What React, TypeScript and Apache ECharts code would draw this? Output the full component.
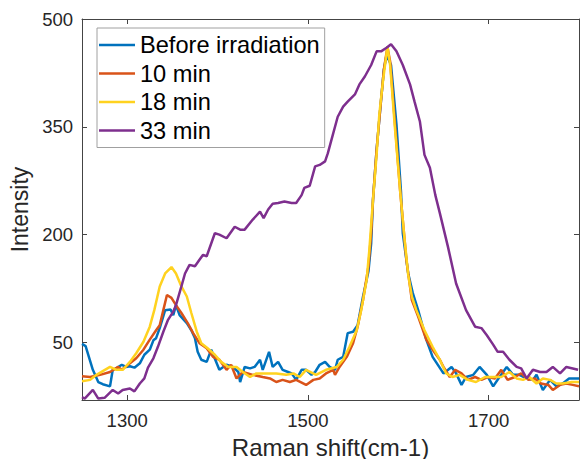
import React, { useEffect, useRef } from "react";
import * as echarts from "echarts";

const xTicks = [1300, 1500, 1700];
const yTicks = [50, 200, 350, 500];

const seriesNames = ["Before irradiation", "10 min", "18 min", "33 min"];
const seriesColors = ["#0072BD", "#D95319", "#FFD21F", "#7E2F8E"];

const before: [number, number][] = [
  [1250, 48], [1254, 45], [1262, 12], [1268, -5], [1273, -8], [1281, -11], [1284, 12], [1288, 14],
  [1294, 19], [1299, 16], [1303, 17], [1308, 15], [1314, 21], [1319, 33], [1325, 40], [1329, 53],
  [1332, 56], [1336, 70], [1342, 95], [1348, 96], [1351, 88], [1354, 102], [1358, 88], [1366, 77],
  [1371, 67], [1375, 56], [1378, 37], [1382, 26], [1388, 23], [1393, 40], [1402, 12], [1410, 19],
  [1417, 16], [1423, 9], [1425, -5], [1430, 16], [1436, 14], [1441, 16], [1447, 26], [1450, 12],
  [1457, 37], [1461, 16], [1467, 23], [1472, 12], [1478, 9], [1482, 7], [1487, -2], [1493, 12],
  [1498, 12], [1504, 5], [1508, 9], [1513, 19], [1519, 23], [1524, 16], [1530, 12], [1533, 26],
  [1539, 30], [1544, 63], [1550, 65], [1555, 74], [1561, 114], [1567, 149], [1570, 188], [1572, 248],
  [1576, 318], [1581, 388], [1584, 429], [1587, 450], [1592, 436], [1598, 353], [1603, 260], [1605, 202],
  [1611, 146], [1616, 119], [1622, 95], [1631, 54], [1638, 30], [1650, 7], [1659, 16], [1664, 7],
  [1670, -9], [1675, 2], [1683, 5], [1690, 16], [1698, 5], [1705, -11], [1712, 2], [1720, 16],
  [1727, 5], [1734, 5], [1742, 0], [1749, -2], [1753, 5], [1760, -16], [1768, -2], [1775, -11],
  [1782, -7], [1789, 0], [1800, 0],
];

const min10: [number, number][] = [
  [1250, 3], [1259, 2], [1270, 5], [1281, 9], [1290, 16], [1294, 12], [1301, 19], [1310, 28],
  [1318, 40], [1325, 54], [1332, 67], [1336, 74], [1340, 95], [1344, 116], [1349, 112], [1354, 102],
  [1360, 91], [1367, 77], [1373, 63], [1380, 49], [1388, 42], [1395, 30], [1402, 26], [1410, 12],
  [1415, 19], [1421, 0], [1428, 9], [1439, 5], [1450, 2], [1458, 0], [1465, -5], [1472, -2],
  [1480, -5], [1487, -2], [1498, -9], [1506, -2], [1513, 0], [1520, 7], [1528, 12], [1530, 5],
  [1535, 16], [1543, 30], [1550, 49], [1555, 72], [1561, 109], [1567, 156], [1570, 202], [1572, 248],
  [1576, 318], [1581, 388], [1584, 429], [1588, 461], [1591, 441], [1596, 360], [1602, 262], [1609, 165],
  [1615, 109], [1622, 86], [1631, 54], [1638, 40], [1646, 26], [1650, 16], [1657, 2], [1663, 12],
  [1670, 7], [1677, -2], [1685, 2], [1692, -2], [1699, 2], [1707, 0], [1714, 12], [1721, -2],
  [1729, 2], [1736, 7], [1744, -2], [1751, 0], [1758, -7], [1766, -9], [1771, -16], [1779, -9],
  [1786, -7], [1793, -9], [1800, -11],
];

const min18: [number, number][] = [
  [1250, -4], [1259, -2], [1266, 5], [1281, 16], [1288, 12], [1295, 12], [1303, 23], [1310, 35],
  [1318, 51], [1325, 72], [1330, 95], [1336, 128], [1342, 146], [1349, 155], [1354, 146], [1360, 128],
  [1366, 114], [1371, 91], [1377, 65], [1382, 49], [1389, 42], [1397, 33], [1404, 23], [1412, 16],
  [1421, 16], [1428, 9], [1436, 2], [1443, 7], [1454, 7], [1465, 7], [1476, 5], [1484, 7],
  [1491, 2], [1498, 12], [1509, 5], [1520, 12], [1532, 16], [1539, 26], [1546, 44], [1554, 67],
  [1559, 95], [1565, 137], [1568, 179], [1572, 248], [1576, 311], [1579, 367], [1583, 413], [1588, 462],
  [1591, 436], [1596, 353], [1602, 262], [1607, 193], [1611, 144], [1615, 114], [1620, 95], [1629, 67],
  [1638, 44], [1646, 26], [1653, 7], [1660, 2], [1668, 5], [1677, -2], [1686, -5], [1696, 2],
  [1705, 2], [1714, 2], [1723, 9], [1731, 0], [1738, -2], [1745, 2], [1753, -7], [1760, 0],
  [1768, -2], [1775, -7], [1782, -7], [1792, -5], [1800, -5],
];

const min33: [number, number][] = [
  [1250, -26], [1253, -28], [1262, -16], [1268, -28], [1275, -27], [1284, -16], [1290, -21], [1295, -16],
  [1303, -14], [1308, -18], [1314, -7], [1319, 0], [1323, 15], [1329, 28], [1334, 44], [1340, 65],
  [1345, 81], [1351, 93], [1354, 102], [1360, 128], [1364, 146], [1369, 158], [1375, 156], [1380, 165],
  [1384, 172], [1388, 170], [1397, 202], [1402, 200], [1410, 195], [1419, 211], [1425, 207], [1430, 207],
  [1439, 221], [1447, 232], [1451, 223], [1456, 235], [1461, 243], [1467, 244], [1474, 246], [1482, 244],
  [1487, 244], [1493, 255], [1496, 265], [1502, 268], [1508, 295], [1513, 297], [1519, 302], [1522, 313],
  [1528, 341], [1533, 364], [1539, 378], [1544, 385], [1552, 395], [1557, 409], [1563, 420], [1570, 436],
  [1576, 455], [1581, 455], [1587, 460], [1592, 465], [1598, 455], [1605, 436], [1613, 409], [1618, 385],
  [1624, 357], [1629, 311], [1635, 293], [1641, 255], [1646, 230], [1655, 183], [1664, 132], [1675, 95],
  [1685, 72], [1692, 70], [1698, 60], [1705, 47], [1710, 37], [1716, 37], [1723, 26], [1731, 16],
  [1736, 14], [1742, 0], [1749, 12], [1757, 9], [1764, 9], [1771, 16], [1779, 7], [1786, 16],
  [1799, 12],
];

const allData = [before, min10, min18, min33];

const FONT = "'Liberation Sans', Arial, Helvetica, sans-serif";
const AXIS_COLOR = "#444444";
const TEXT_COLOR = "#262626";

export default function App() {
  const ref = useRef<HTMLDivElement>(null);

  useEffect(() => {
    if (!ref.current) return;
    const chart = echarts.init(ref.current, undefined, { renderer: "svg" });

    const axisLine = { show: true, onZero: false, lineStyle: { color: AXIS_COLOR, width: 1 } };
    const tick = { show: true, inside: true, length: 5, lineStyle: { color: AXIS_COLOR, width: 1 } };
    const plain = (v: number) => String(v);

    chart.setOption({
      animation: false,
      backgroundColor: "#ffffff",
      textStyle: { fontFamily: FONT },
      grid: { left: 82, right: 2, top: 19, bottom: 59, containLabel: false, outerBoundsMode: "none" },
      legend: {
        show: true,
        orient: "vertical",
        left: 97,
        top: 28,
        data: seriesNames.map((n) => ({ name: n, icon: "rect" })),
        itemWidth: 36,
        itemHeight: 2.5,
        itemGap: 4.5,
        padding: [5, 5, 5, 2],
        borderColor: "#a0a0a0",
        borderWidth: 1,
        backgroundColor: "#ffffff",
        textStyle: { fontSize: 23.6, lineHeight: 24, color: "#000000", fontFamily: FONT },
      },
      xAxis: [
        {
          type: "value",
          min: 1250,
          max: 1800,
          position: "bottom",
          axisLine,
          axisTick: { ...tick, customValues: xTicks },
          axisLabel: { customValues: xTicks, formatter: plain, fontSize: 18.5, color: TEXT_COLOR, margin: 11, fontFamily: FONT },
          splitLine: { show: false },
          name: "Raman shift(cm-1)",
          nameLocation: "middle",
          nameGap: 35,
          nameTextStyle: { fontSize: 24, color: TEXT_COLOR, fontFamily: FONT, verticalAlign: "top" },
        },
        {
          type: "value",
          min: 1250,
          max: 1800,
          position: "top",
          axisLine,
          axisTick: { ...tick, customValues: xTicks },
          axisLabel: { show: false },
          splitLine: { show: false },
        },
      ],
      yAxis: [
        {
          type: "value",
          min: -30,
          max: 500,
          position: "left",
          axisLine,
          axisTick: { ...tick, customValues: yTicks },
          axisLabel: { customValues: yTicks, formatter: plain, fontSize: 18.5, color: TEXT_COLOR, margin: 9, fontFamily: FONT },
          splitLine: { show: false },
          name: "Intensity",
          nameLocation: "middle",
          nameGap: 43,
          nameRotate: 90,
          nameTextStyle: { fontSize: 23, color: TEXT_COLOR, fontFamily: FONT },
        },
        {
          type: "value",
          min: -30,
          max: 500,
          position: "right",
          axisLine,
          axisTick: { ...tick, customValues: yTicks },
          axisLabel: { show: false },
          splitLine: { show: false },
        },
      ],
      series: allData.map((d, i) => ({
        name: seriesNames[i],
        type: "line",
        data: d,
        xAxisIndex: 0,
        yAxisIndex: 0,
        symbol: "none",
        showSymbol: false,
        smooth: false,
        clip: true,
        color: seriesColors[i],
        itemStyle: { color: seriesColors[i] },
        lineStyle: { color: seriesColors[i], width: 2.5 },
        emphasis: { disabled: true },
      })),
    });

    return () => chart.dispose();
  }, []);

  return (
    <div
      ref={ref}
      style={{ position: "fixed", left: 0, top: 0, width: 581, height: 459, background: "#fff" }}
    />
  );
}
